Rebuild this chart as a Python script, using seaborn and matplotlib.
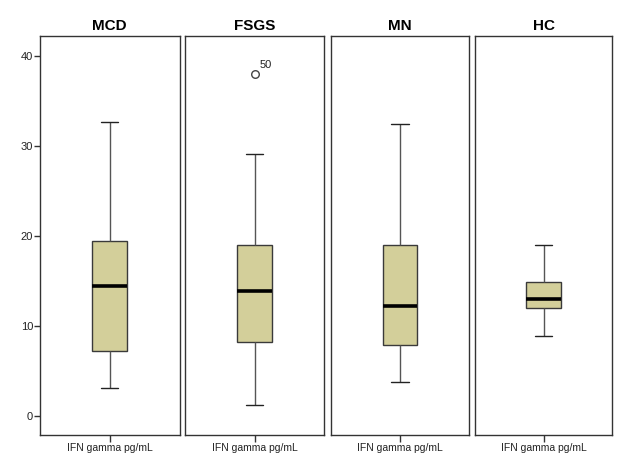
import numpy as np
import pandas as pd
import matplotlib
matplotlib.use("Agg")
import matplotlib.pyplot as plt
import seaborn as sns

# Data (five-number summaries: low whisker, Q1, median, Q3, high whisker)
groups = ["MCD", "FSGS", "MN", "HC"]
mcd_values = [3.1, 7.2, 14.4, 19.4, 32.7]
fsgs_values = [1.2, 8.2, 13.9, 19.0, 29.1]
mn_values = [3.8, 7.9, 12.2, 19.0, 32.4]
hc_values = [8.9, 12.0, 13.0, 14.9, 19.0]
fsgs_outliers = [38.0]
fsgs_outlier_labels = ["50"]
x_label = "IFN gamma pg/mL"
y_ticks = [0, 10, 20, 30, 40]

values = {"MCD": mcd_values, "FSGS": fsgs_values, "MN": mn_values, "HC": hc_values}
outliers = {"FSGS": (fsgs_outliers, fsgs_outlier_labels)}

sns.set_theme(style="white")
plt.rcParams["font.family"] = ["Liberation Sans", "DejaVu Sans"]

fig = plt.figure(figsize=(6.24, 4.54), dpi=100)
W, H = 624, 454
panels = [(40, 179.5), (185, 324), (331, 469), (475, 612)]
top_px, bot_px = 35.5, 435

fill = "#D3CF9A"
edge = "#3a3a3a"

for i, (g, (l, r)) in enumerate(zip(groups, panels)):
    ax = fig.add_axes([l / W, 1 - bot_px / H, (r - l) / W, (bot_px - top_px) / H])
    df = pd.DataFrame({"group": [x_label] * len(values[g]), "value": values[g]})
    sns.boxplot(data=df, x="group", y="value", ax=ax, width=0.25, color=fill,
                whis=(0, 100), showfliers=False, linecolor=edge, linewidth=1.0,
                saturation=1,
                medianprops=dict(color="black", linewidth=2.6),
                whiskerprops=dict(color="#555555", linewidth=1.0),
                capprops=dict(color="#222222", linewidth=1.0),
                boxprops=dict(edgecolor=edge, linewidth=1.0))
    if g in outliers:
        ys, labs = outliers[g]
        odf = pd.DataFrame({"group": [x_label] * len(ys), "value": ys})
        sns.scatterplot(data=odf, x="group", y="value", ax=ax, marker="o", s=30,
                        facecolor="white", edgecolor="#444444", linewidth=1.0, zorder=5)
        for yv, lab in zip(ys, labs):
            ax.annotate(lab, (0, yv), xytext=(4, 4), textcoords="offset points",
                        fontsize=8, color="#222222")
    ax.set_xlim(-0.5, 0.5)
    ax.set_ylim(-2.1, 42.28)
    ax.set_xlabel("")
    ax.set_ylabel("")
    ax.set_title(g, fontsize=11, fontweight="bold", pad=4, color="black")
    for s in ax.spines.values():
        s.set_color("#333333")
        s.set_linewidth(1.0)
        s.set_visible(True)
    ax.tick_params(axis="x", bottom=True, length=5, width=1, color="#333333",
                   labelsize=7.5, pad=0.5, labelcolor="#222222")
    if i == 0:
        ax.set_yticks(y_ticks)
        ax.set_yticklabels([str(t) for t in y_ticks])
        ax.tick_params(axis="y", left=True, length=4, width=1, color="#333333",
                       labelsize=8, pad=1, labelcolor="#222222")
    else:
        ax.set_yticks([])

fig.savefig("out.png", dpi=100)
